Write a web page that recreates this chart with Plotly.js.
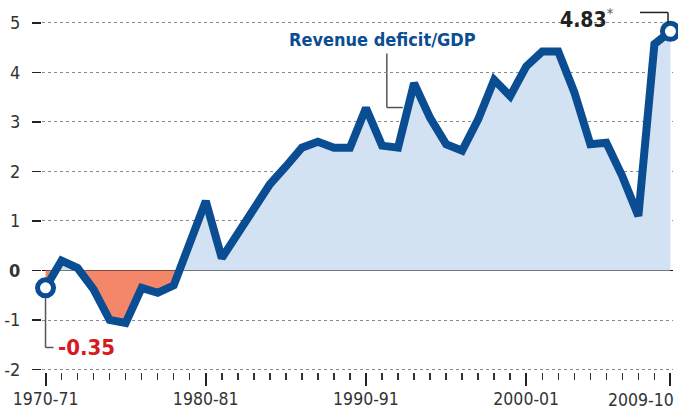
<!DOCTYPE html>
<html>
<head>
<meta charset="utf-8">
<script src="https://cdn.plot.ly/plotly-3.0.1.min.js"></script>
<style>
html,body{margin:0;padding:0;background:#fff;}
#chart{width:678px;height:409px;}
</style>
</head>
<body>
<div id="chart"></div>
<script>
// Fiscal years (start year) 1970-71 ... 2009-10
const years = [1970,1971,1972,1973,1974,1975,1976,1977,1978,1979,
               1980,1981,1982,1983,1984,1985,1986,1987,1988,1989,
               1990,1991,1992,1993,1994,1995,1996,1997,1998,1999,
               2000,2001,2002,2003,2004,2005,2006,2007,2008,2009];
// Revenue deficit as % of GDP
const revenueDeficit = [-0.35,0.2,0.05,-0.38,-1.0,-1.06,-0.35,-0.45,-0.3,0.55,
                        1.4,0.25,0.75,1.2,1.74,2.1,2.48,2.6,2.48,2.48,
                        3.28,2.52,2.48,3.78,3.08,2.55,2.42,3.05,3.85,3.52,
                        4.12,4.42,4.42,3.6,2.55,2.58,1.9,1.1,4.57,4.83];
const xTickVals = [1970,1980,1990,2000,2009];
const xTickText = ['1970-71','1980-81','1990-91','2000-01','2009-10'];
const yTickVals = [-2,-1,0,1,2,3,4,5];
const yTickText = ['-2','-1','<b>0</b>','1','2','3','4','5'];
const seriesName = 'Revenue deficit/GDP';

const FONT = '"Liberation Sans Narrow","DejaVu Sans Condensed","Roboto Condensed",sans-serif';
const BLUE = '#0a4d93';

// split into positive / negative parts with interpolated zero crossings
const xs = [], ys = [];
for (let i = 0; i < years.length; i++) {
  if (i > 0) {
    const a = revenueDeficit[i-1], b = revenueDeficit[i];
    if ((a < 0 && b > 0) || (a > 0 && b < 0)) {
      const t = a / (a - b);
      xs.push(years[i-1] + t * (years[i] - years[i-1]));
      ys.push(0);
    }
  }
  xs.push(years[i]); ys.push(revenueDeficit[i]);
}
const posY = ys.map(v => Math.max(v, 0));
const negY = ys.map(v => Math.min(v, 0));

const n = years.length;
const traces = [
  {x: xs, y: negY, type: 'scatter', mode: 'lines', fill: 'tozeroy',
   fillcolor: '#f4876a', line: {width: 0, color: 'rgba(0,0,0,0)'}, hoverinfo: 'skip'},
  {x: xs, y: posY, type: 'scatter', mode: 'lines', fill: 'tozeroy',
   fillcolor: '#d3e2f3', line: {width: 0, color: 'rgba(0,0,0,0)'}, hoverinfo: 'skip'},
  {x: years, y: revenueDeficit, type: 'scatter', mode: 'lines', name: seriesName,
   line: {color: BLUE, width: 8, shape: 'linear'}},
  {x: [years[0], years[n-1]], y: [revenueDeficit[0], revenueDeficit[n-1]],
   type: 'scatter', mode: 'markers', cliponaxis: false,
   marker: {size: 16, color: '#ffffff', line: {color: BLUE, width: 5}}}
];

// all major tick labels except the last drawn by the axis; last one right-aligned to fit
const axisTickText = xTickText.map((t, i) => i === xTickText.length - 1 ? ' ' : t);

const leaderColor = '#555555';
const layout = {
  width: 678, height: 409,
  margin: {l: 42, r: 5, t: 8, b: 36.5},
  paper_bgcolor: '#ffffff', plot_bgcolor: 'rgba(0,0,0,0)',
  showlegend: false,
  font: {family: FONT, size: 18, color: '#333333'},
  xaxis: {
    range: [1969.78, 2009.16],
    tickmode: 'array', tickvals: xTickVals, ticktext: axisTickText,
    ticks: 'outside', ticklen: 13, tickwidth: 2, tickcolor: '#222222',
    ticklabelstandoff: -2,
    minor: {tick0: 1970, dtick: 1, ticks: 'outside', ticklen: 7, tickwidth: 1.5, tickcolor: '#333333', showgrid: false},
    showgrid: false, zeroline: false, showline: false,
    tickfont: {family: FONT, size: 17.5, color: '#333333'}
  },
  yaxis: {
    range: [-2.05, 5.3],
    tickmode: 'array', tickvals: yTickVals, ticktext: yTickText,
    ticks: 'outside', ticklen: 9, tickwidth: 1.5, tickcolor: '#222222',
    ticklabelstandoff: 8,
    showgrid: true, griddash: 'dot', gridcolor: '#8a8a8a', gridwidth: 1,
    zeroline: true, zerolinecolor: '#111111', zerolinewidth: 1.5,
    showline: false,
    tickfont: {family: FONT, size: 18, color: '#333333'}
  },
  shapes: [
    // leader for first value
    {type: 'line', xref: 'x', yref: 'y', x0: years[0], x1: years[0], y0: revenueDeficit[0] - 0.2, y1: -1.555,
     line: {color: leaderColor, width: 1.5}, layer: 'above'},
    {type: 'line', xref: 'x', yref: 'y', x0: years[0], x1: 1970.5, y0: -1.555, y1: -1.555,
     line: {color: leaderColor, width: 1.5}, layer: 'above'},
    // leader for series label
    {type: 'line', xref: 'x', yref: 'y', x0: 1991.3, x1: 1991.3, y0: 4.38, y1: 3.29,
     line: {color: leaderColor, width: 1.5}, layer: 'below'},
    {type: 'line', xref: 'x', yref: 'y', x0: 1991.3, x1: 1992.3, y0: 3.29, y1: 3.29,
     line: {color: leaderColor, width: 1.5}, layer: 'below'},
    // leader for last value
    {type: 'line', xref: 'x', yref: 'y', x0: 2007.1, x1: 2008.85, y0: 5.21, y1: 5.21,
     line: {color: '#222222', width: 1.5}, layer: 'above'},
    {type: 'line', xref: 'x', yref: 'y', x0: 2008.85, x1: 2008.85, y0: 5.21, y1: revenueDeficit[n-1] + 0.16,
     line: {color: '#222222', width: 1.5}, layer: 'above'}
  ],
  annotations: [
    {xref: 'x', yref: 'y', x: 1991.03, y: 4.66, text: '<b>' + seriesName + '</b>', showarrow: false,
     font: {family: FONT, size: 18, color: BLUE}, xanchor: 'center', yanchor: 'middle'},
    {xref: 'x', yref: 'y', x: 1970.68, y: -1.55, text: '<b>' + revenueDeficit[0].toFixed(2) + '</b>', showarrow: false,
     font: {family: FONT, size: 22, color: '#d71920'}, xanchor: 'left', yanchor: 'middle'},
    {xref: 'x', yref: 'y', x: 2005.6, y: 5.1, text: '<b>' + revenueDeficit[n-1].toFixed(2) + '</b><span style="color:#555"><sup>*</sup></span>', showarrow: false,
     font: {family: FONT, size: 21, color: '#222222'}, xanchor: 'right', yanchor: 'middle'},
    {xref: 'paper', yref: 'paper', x: 1.004, y: 0, yshift: -28, text: xTickText[xTickText.length - 1], showarrow: false,
     font: {family: FONT, size: 17.5, color: '#333333'}, xanchor: 'right', yanchor: 'middle'}
  ]
};

Plotly.newPlot('chart', traces, layout, {staticPlot: true, displayModeBar: false});
</script>
</body>
</html>
